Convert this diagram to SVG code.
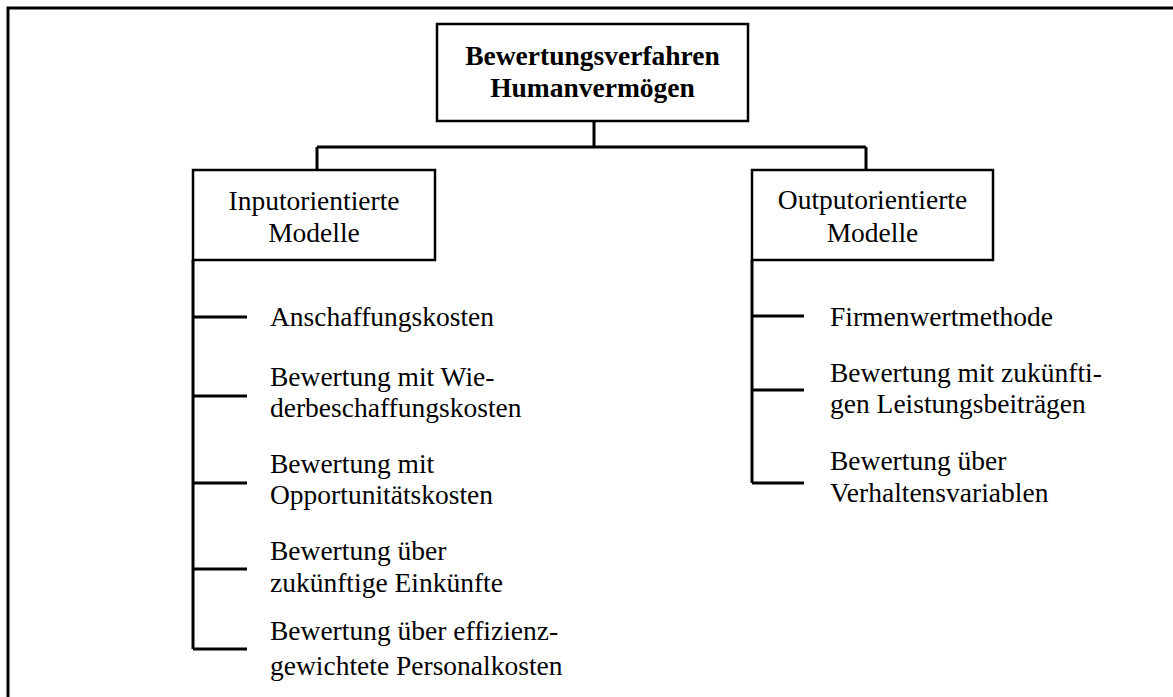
<svg xmlns="http://www.w3.org/2000/svg" width="1173" height="697" viewBox="0 0 1173 697">
<style>
.box{fill:#fff;stroke:#000;stroke-width:2.5}
.ln{stroke:#000;stroke-width:3;fill:none}
text{font-family:"Liberation Serif","Times New Roman",serif;font-size:27.5px;fill:#000}
.c{text-anchor:middle}
.b{font-weight:bold}
</style>
<rect x="0" y="0" width="1173" height="697" fill="#fff"/>
<rect x="8" y="8" width="1185" height="720" fill="none" stroke="#000" stroke-width="3"/>
<g id="connectors">
<path class="ln" d="M594 121V147M317 147H866M317 147V170M866 147V170"/>
<path class="ln" d="M193 260V649M193 317H247M193 396H247M193 483H247M193 569H247M193 649H247"/>
<path class="ln" d="M752 260V483M752 316H804M752 390H804M752 483H804"/>
</g>
<g id="root">
<rect class="box" x="437" y="24" width="311" height="97"/>
<text class="c b" x="592.5" y="65">Bewertungsverfahren</text>
<text class="c b" x="592.5" y="97">Humanvermögen</text>
</g>
<g id="input">
<rect class="box" x="193" y="170" width="242" height="90"/>
<text class="c" x="314" y="210">Inputorientierte</text>
<text class="c" x="314" y="242">Modelle</text>
</g>
<g id="output">
<rect class="box" x="752" y="170" width="241" height="90"/>
<text class="c" x="872.5" y="209">Outputorientierte</text>
<text class="c" x="872.5" y="242">Modelle</text>
</g>
<g id="in1"><text x="270" y="326">Anschaffungskosten</text></g>
<g id="in2"><text x="270" y="386">Bewertung mit Wie-</text><text x="270" y="417">derbeschaffungskosten</text></g>
<g id="in3"><text x="270" y="473">Bewertung mit</text><text x="270" y="504">Opportunitätskosten</text></g>
<g id="in4"><text x="270" y="560">Bewertung über</text><text x="270" y="592">zukünftige Einkünfte</text></g>
<g id="in5"><text x="270" y="640">Bewertung über effizienz-</text><text x="270" y="675">gewichtete Personalkosten</text></g>
<g id="out1"><text x="830" y="326">Firmenwertmethode</text></g>
<g id="out2"><text x="830" y="382">Bewertung mit zukünfti-</text><text x="830" y="413">gen Leistungsbeiträgen</text></g>
<g id="out3"><text x="830" y="470">Bewertung über</text><text x="830" y="502">Verhaltensvariablen</text></g>
</svg>
